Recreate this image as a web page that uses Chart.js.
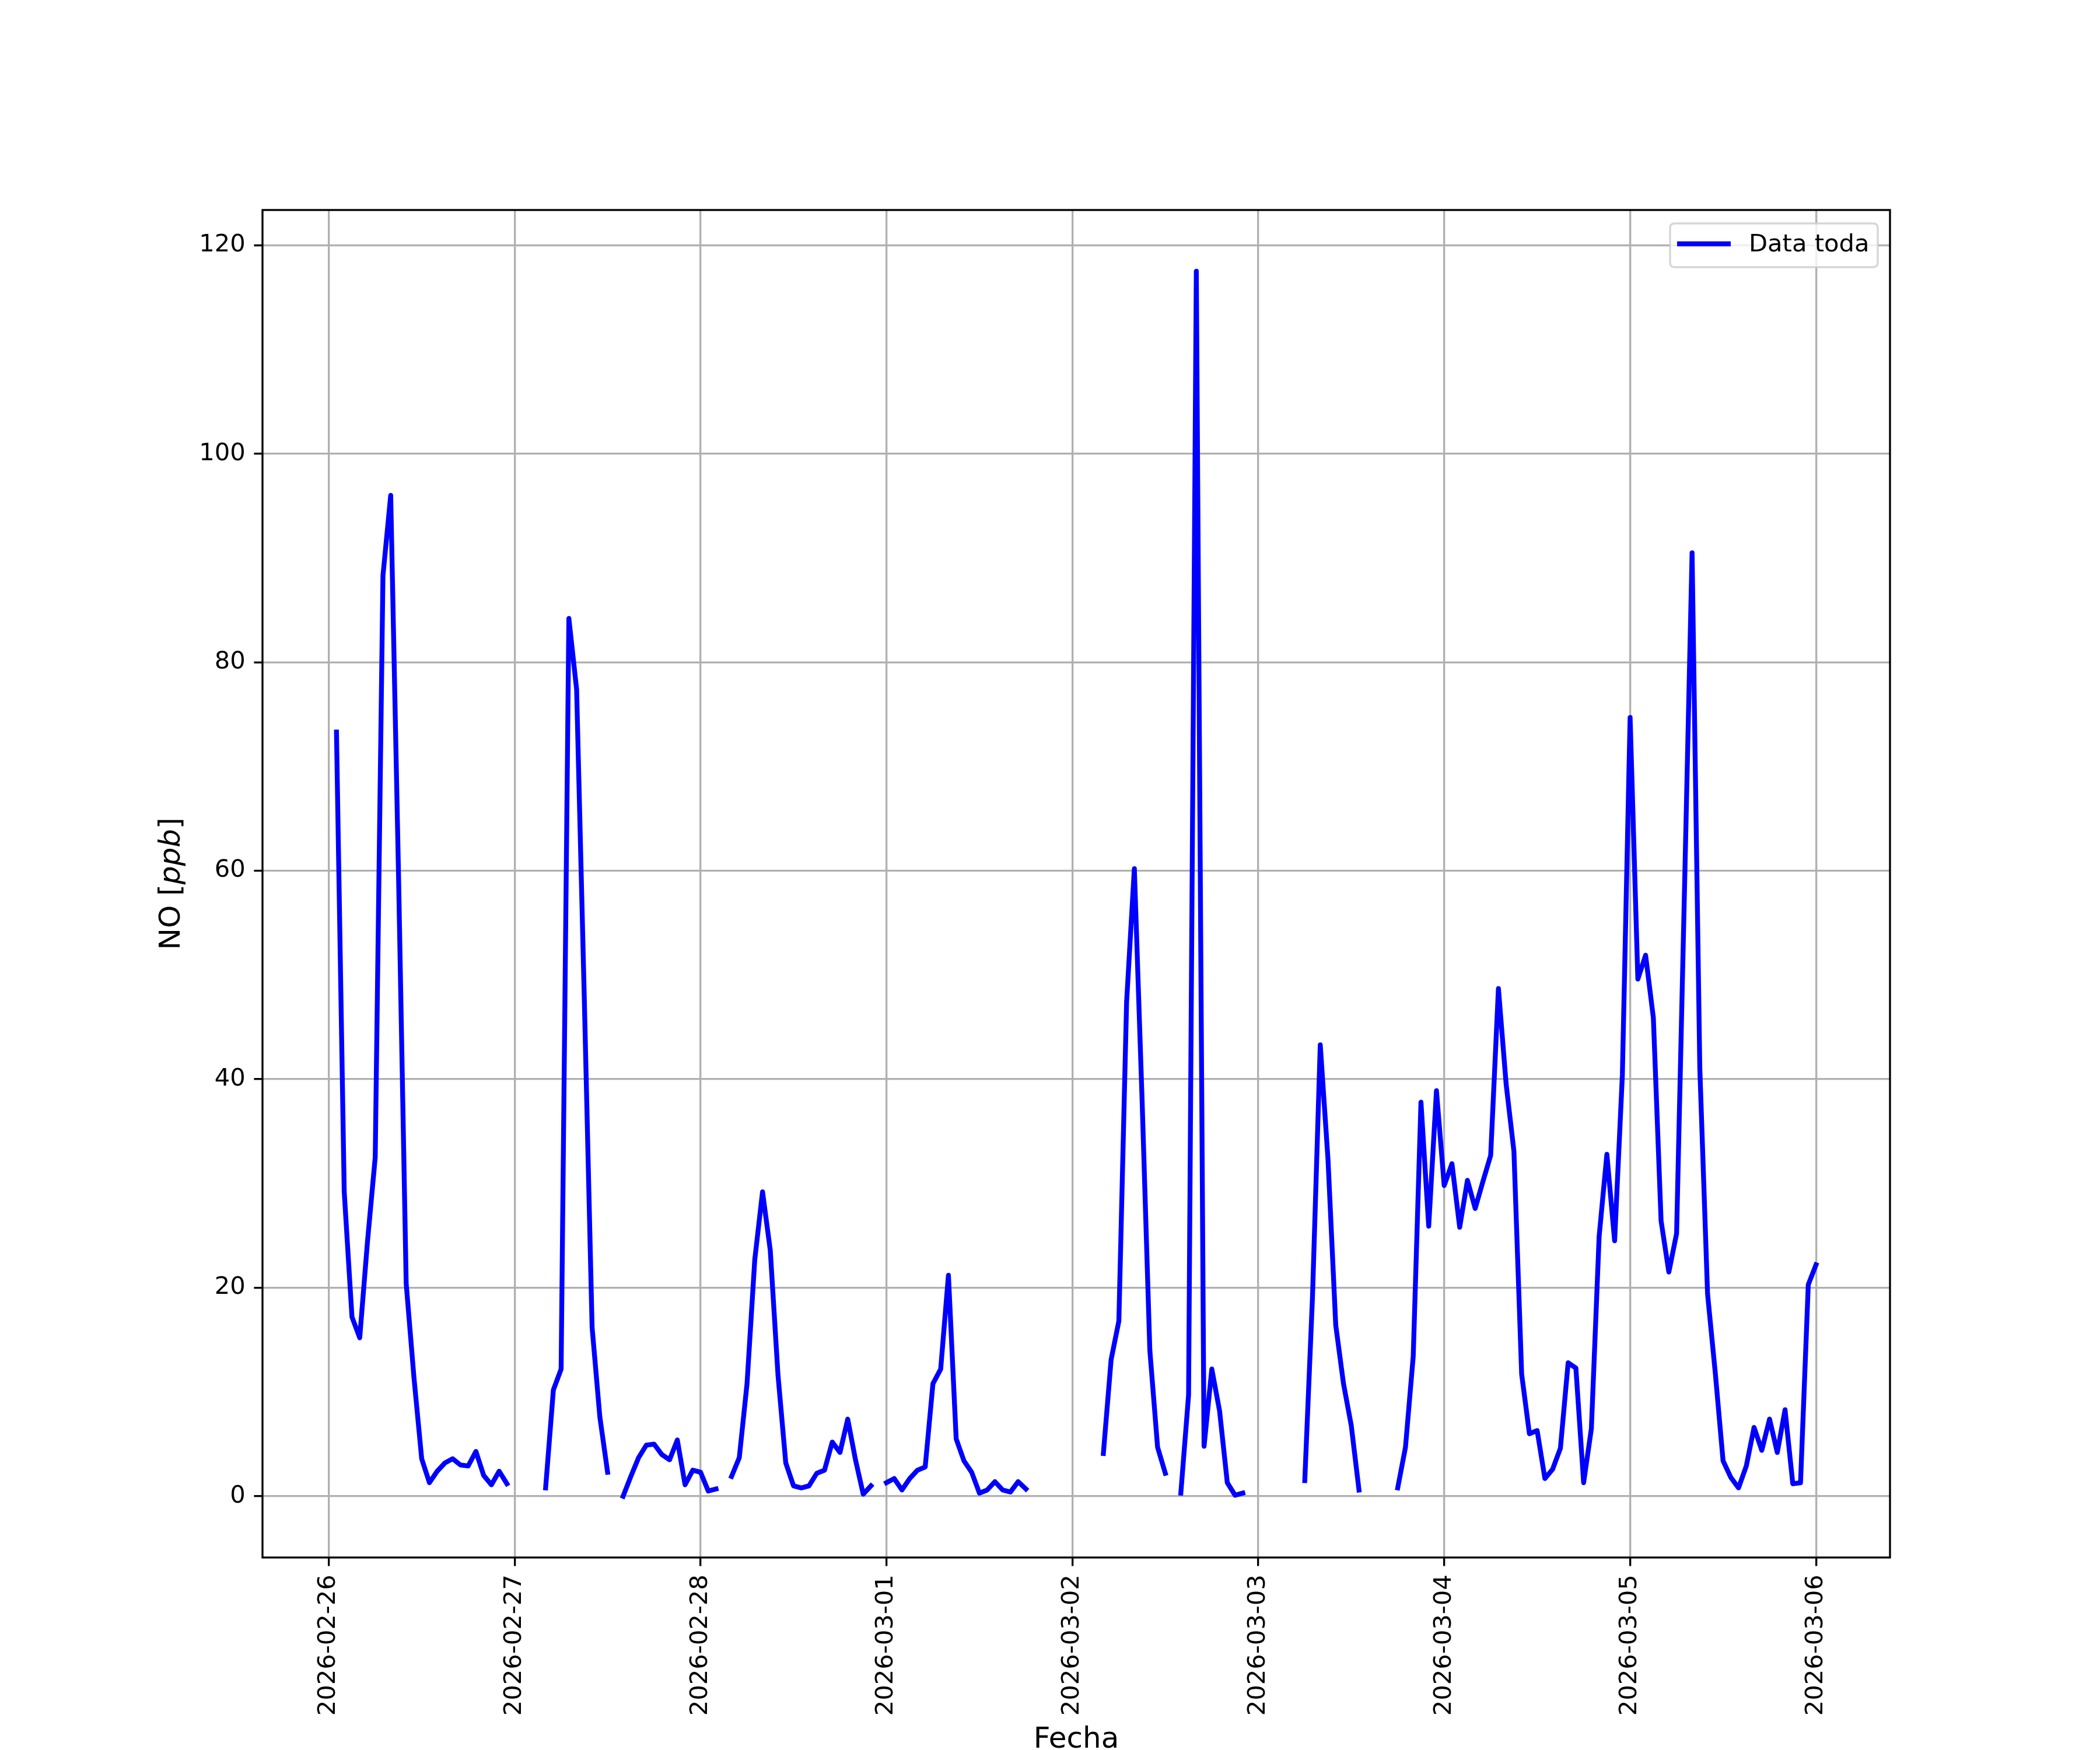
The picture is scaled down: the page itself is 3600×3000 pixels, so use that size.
<!DOCTYPE html>
<html>
<head>
<meta charset="utf-8">
<script src="https://cdn.jsdelivr.net/npm/chart.js@4.4.1/dist/chart.umd.min.js"></script>
<style>
  html, body { margin: 0; padding: 0; background: #ffffff; }
  canvas { display: block; }
</style>
</head>
<body>
<canvas id="c" width="3600" height="3000" style="width:3600px;height:3000px"></canvas>
<script>
// ---- Data (hourly NO values in ppb, null = missing) ----
const dayLabels = ['2026-02-26','2026-02-27','2026-02-28','2026-03-01','2026-03-02','2026-03-03','2026-03-04','2026-03-05','2026-03-06'];
const yTicks = [0, 20, 40, 60, 80, 100, 120];
const seriesLabel = 'Data toda';

const feb26 = [null, 73.3, 29.2, 17.2, 15.2, 24.4, 32.5, 88.3, 96.0, 60.0, 20.4, 11.4, 3.6, 1.3, 2.4, 3.2, 3.6, 3.0, 2.9, 4.3, 2.0, 1.1, 2.4, 1.2];
const feb27 = [null, null, null, null, 0.8, 10.2, 12.2, 84.2, 77.4, 47.5, 16.2, 7.6, 2.3, null, 0.0, 1.9, 3.7, 4.9, 5.0, 4.0, 3.5, 5.4, 1.1, 2.5];
const feb28 = [2.3, 0.5, 0.7, null, 1.9, 3.7, 10.8, 22.7, 29.2, 23.6, 11.6, 3.2, 1.0, 0.8, 1.0, 2.2, 2.5, 5.2, 4.2, 7.4, 3.5, 0.2, 1.0, null];
const mar01 = [1.3, 1.7, 0.6, 1.7, 2.5, 2.8, 10.8, 12.2, 21.2, 5.5, 3.4, 2.3, 0.3, 0.6, 1.4, 0.6, 0.4, 1.4, 0.7, null, null, null, null, null];
const mar02 = [null, null, null, null, 4.1, 13.1, 16.8, 47.4, 60.2, 38.0, 14.0, 4.7, 2.2, null, 0.3, 9.7, 117.5, 4.8, 12.2, 8.2, 1.3, 0.1, 0.3, null];
const mar03 = [null, null, null, null, null, null, 1.5, 19.2, 43.3, 32.3, 16.4, 10.8, 6.8, 0.6, null, null, null, null, 0.8, 4.7, 13.4, 37.8, 25.9, 38.9];
const mar04 = [29.8, 31.9, 25.8, 30.3, 27.6, 30.2, 32.7, 48.7, 39.5, 33.1, 11.7, 6.0, 6.3, 1.7, 2.6, 4.6, 12.8, 12.3, 1.3, 6.5, 24.9, 32.8, 24.5, 40.4];
const mar05 = [74.7, 49.6, 51.9, 45.9, 26.4, 21.5, 25.2, 57.5, 90.5, 41.0, 19.4, 11.8, 3.4, 1.8, 0.8, 2.9, 6.6, 4.4, 7.4, 4.2, 8.3, 1.2, 1.3, 20.3];
const mar06 = [22.2];

const noValues = [].concat(feb26, feb27, feb28, mar01, mar02, mar03, mar04, mar05, mar06);
// x = hours since 2026-02-26 00:00
const points = noValues.map((v, i) => ({ x: i, y: v }));

// ---- Decorations: frame, legend, axis titles ----
const decor = {
  id: 'decor',
  afterDatasetsDraw(chart) {
    const ctx = chart.ctx;
    const a = chart.chartArea;
    ctx.save();
    // frame (spines)
    ctx.strokeStyle = '#000000';
    ctx.lineWidth = 3.33;
    ctx.strokeRect(a.left, a.top, a.right - a.left, a.bottom - a.top);

    // legend box
    const lx = a.right - 377, ly = a.top + 23, lw = 356, lh = 75, r = 8;
    ctx.beginPath();
    ctx.moveTo(lx + r, ly);
    ctx.lineTo(lx + lw - r, ly);
    ctx.quadraticCurveTo(lx + lw, ly, lx + lw, ly + r);
    ctx.lineTo(lx + lw, ly + lh - r);
    ctx.quadraticCurveTo(lx + lw, ly + lh, lx + lw - r, ly + lh);
    ctx.lineTo(lx + r, ly + lh);
    ctx.quadraticCurveTo(lx, ly + lh, lx, ly + lh - r);
    ctx.lineTo(lx, ly + r);
    ctx.quadraticCurveTo(lx, ly, lx + r, ly);
    ctx.closePath();
    ctx.fillStyle = 'rgba(255,255,255,0.8)';
    ctx.fill();
    ctx.strokeStyle = 'rgba(204,204,204,0.8)';
    ctx.lineWidth = 3.33;
    ctx.stroke();
    // legend handle
    const ds = chart.data.datasets[0];
    ctx.beginPath();
    ctx.moveTo(lx + 12, ly + 35);
    ctx.lineTo(lx + 104, ly + 35);
    ctx.strokeStyle = ds.borderColor;
    ctx.lineWidth = ds.borderWidth;
    ctx.lineCap = 'butt';
    ctx.stroke();
    // legend text
    ctx.fillStyle = '#000000';
    ctx.font = '41.67px "DejaVu Sans"';
    ctx.textAlign = 'left';
    ctx.textBaseline = 'middle';
    ctx.fillText(ds.label, lx + 135, ly + 37);

    // x axis title
    ctx.font = '50px "DejaVu Sans"';
    ctx.textAlign = 'center';
    ctx.textBaseline = 'alphabetic';
    ctx.fillText('Fecha', (a.left + a.right) / 2, 2996);

    // y axis title: NO [ppb] with italic ppb
    ctx.translate(295, (a.top + a.bottom) / 2);
    ctx.rotate(-Math.PI / 2);
    const parts = [
      { t: 'NO [', f: '50px "DejaVu Sans"' },
      { t: 'ppb', f: 'italic 50px "DejaVu Sans"' },
      { t: ']', f: '50px "DejaVu Sans"' }
    ];
    let total = 0;
    parts.forEach(p => { ctx.font = p.f; p.w = ctx.measureText(p.t).width; total += p.w; });
    let x = -total / 2;
    ctx.textAlign = 'left';
    ctx.textBaseline = 'middle';
    parts.forEach(p => { ctx.font = p.f; ctx.fillText(p.t, x, 0); x += p.w; });
    ctx.restore();
  }
};

const tickFont = { family: 'DejaVu Sans', size: 41.67 };

new Chart(document.getElementById('c'), {
  type: 'line',
  data: {
    datasets: [{
      label: seriesLabel,
      data: points,
      borderColor: '#0000ff',
      borderWidth: 8.33,
      pointRadius: 0,
      tension: 0,
      spanGaps: false,
      borderJoinStyle: 'round',
      borderCapStyle: 'square',
      fill: false
    }]
  },
  options: {
    responsive: false,
    devicePixelRatio: 1,
    animation: false,
    layout: { padding: { top: 360, right: 360, left: 0, bottom: 0 } },
    plugins: {
      legend: { display: false },
      tooltip: { enabled: false },
      title: { display: false }
    },
    scales: {
      x: {
        type: 'linear',
        min: -8.55,
        max: 201.55,
        afterFit: s => { s.height = 330; },
        afterBuildTicks: s => { s.ticks = dayLabels.map((d, i) => ({ value: i * 24 })); },
        ticks: {
          autoSkip: false,
          minRotation: 90,
          maxRotation: 90,
          padding: 14.6,
          color: '#000000',
          font: tickFont,
          callback: v => dayLabels[Math.round(v / 24)]
        },
        grid: {
          color: '#b0b0b0',
          lineWidth: 3.33,
          drawTicks: true,
          tickLength: 14.6,
          tickColor: '#000000',
          tickWidth: 3.33
        },
        border: { display: false }
      },
      y: {
        type: 'linear',
        min: -5.875,
        max: 123.375,
        afterFit: s => { s.width = 450; },
        afterBuildTicks: s => { s.ticks = yTicks.map(v => ({ value: v })); },
        ticks: {
          padding: 14.6,
          color: '#000000',
          font: tickFont,
          callback: v => String(v)
        },
        grid: {
          color: '#b0b0b0',
          lineWidth: 3.33,
          drawTicks: true,
          tickLength: 14.6,
          tickColor: '#000000',
          tickWidth: 3.33
        },
        border: { display: false }
      }
    }
  },
  plugins: [decor]
});
</script>
</body>
</html>
